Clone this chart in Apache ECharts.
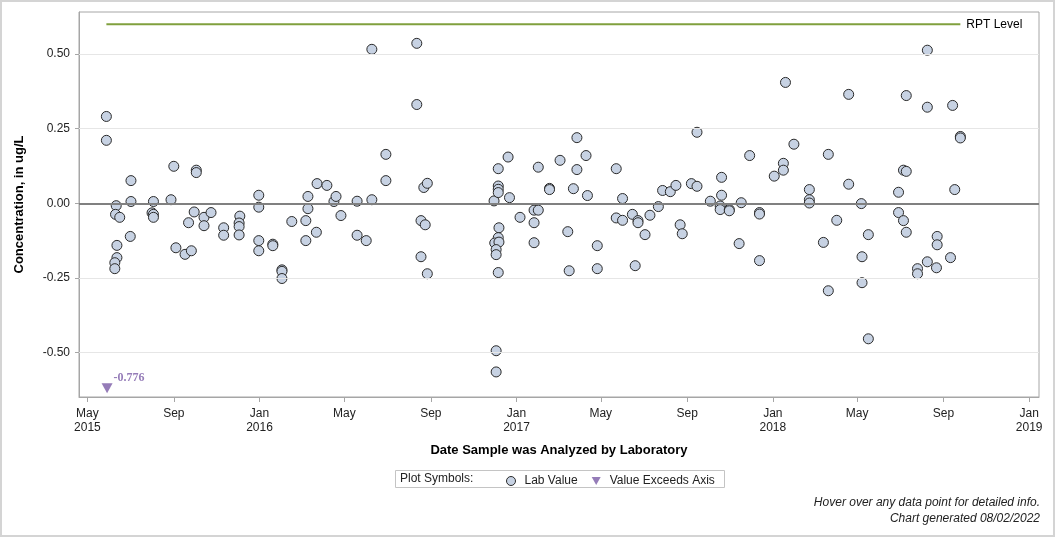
<!DOCTYPE html>
<html>
<head>
<meta charset="utf-8">
<script src="https://cdn.jsdelivr.net/npm/echarts@6/dist/echarts.min.js"></script>
<style>
  html, body { margin: 0; padding: 0; background: #fff; }
  #main { width: 1056px; height: 538px; }
</style>
</head>
<body>
<div id="main"></div>
<script>
// sample dates (lab analysis) and lab values, ug/L
var sampleDates = [
  '2015-05-28','2015-05-28','2015-06-11','2015-06-10','2015-06-16','2015-06-12','2015-06-12','2015-06-09','2015-06-09','2015-07-02',
  '2015-07-02','2015-07-01','2015-08-01','2015-08-03','2015-08-03','2015-08-03','2015-08-28','2015-09-01','2015-09-04','2015-09-17',
  '2015-09-26','2015-09-22','2015-09-30','2015-10-03','2015-10-03','2015-10-14','2015-10-14','2015-10-24','2015-11-11','2015-11-11',
  '2015-12-04','2015-12-03','2015-12-03','2015-12-03','2015-12-31','2015-12-31','2015-12-31','2015-12-31','2016-01-20','2016-01-20',
  '2016-02-02','2016-02-02','2016-02-02','2016-02-16','2016-03-07','2016-03-07','2016-03-10','2016-03-10','2016-03-23','2016-03-22',
  '2016-04-06','2016-04-16','2016-04-19','2016-04-26','2016-05-19','2016-05-19','2016-06-01','2016-06-09','2016-06-09','2016-06-29',
  '2016-06-29','2016-08-12','2016-08-12','2016-08-18','2016-08-24','2016-08-18','2016-08-27','2016-08-22','2016-08-27','2016-11-30',
  '2016-12-06','2016-12-06','2016-12-06','2016-12-06','2016-12-07','2016-12-06','2016-12-01','2016-12-07','2016-12-03','2016-12-03',
  '2016-12-06','2016-12-03','2016-12-03','2016-12-20','2016-12-22','2017-01-06','2017-01-26','2017-02-01','2017-01-26','2017-01-26',
  '2017-02-01','2017-02-17','2017-02-17','2017-03-04','2017-03-15','2017-03-17','2017-03-23','2017-03-28','2017-03-28','2017-04-10',
  '2017-04-12','2017-04-26','2017-04-26','2017-05-23','2017-05-23','2017-06-01','2017-06-01','2017-06-15','2017-06-19','2017-06-23',
  '2017-06-23','2017-07-03','2017-07-10','2017-07-22','2017-07-28','2017-08-08','2017-08-16','2017-08-22','2017-08-25','2017-09-07',
  '2017-09-15','2017-09-15','2017-10-04','2017-10-18','2017-10-18','2017-10-20','2017-10-20','2017-10-31','2017-10-31','2017-11-17',
  '2017-11-14','2017-11-29','2017-12-13','2017-12-13','2017-12-13','2018-01-03','2018-01-16','2018-01-16','2018-01-19','2018-01-31',
  '2018-02-22','2018-02-22','2018-02-22','2018-03-14','2018-03-21','2018-03-21','2018-04-02','2018-04-19','2018-04-19','2018-05-07',
  '2018-05-08','2018-05-08','2018-05-17','2018-05-17','2018-06-29','2018-06-29','2018-07-06','2018-07-06','2018-07-10','2018-07-10',
  '2018-07-10','2018-07-26','2018-07-26','2018-08-09','2018-08-09','2018-08-09','2018-08-22','2018-08-23','2018-08-23','2018-09-11',
  '2018-09-14','2018-09-17','2018-09-25','2018-09-25'
];
var labValues = [
  0.291, 0.211, -0.008, -0.037, -0.047, -0.141, -0.182, -0.199, -0.219, 0.076,
  0.006, -0.111, -0.032, 0.006, -0.037, -0.047, 0.012, 0.124, -0.149, -0.171,
  -0.159, -0.065, -0.029, 0.111, 0.103, -0.047, -0.075, -0.031, -0.082, -0.107,
  -0.043, -0.066, -0.078, -0.106, 0.027, -0.013, -0.125, -0.159, -0.137, -0.142,
  -0.223, -0.228, -0.252, -0.061, -0.058, -0.125, 0.023, -0.018, 0.066, -0.097,
  0.060, 0.006, 0.023, -0.041, 0.007, -0.107, -0.125, 0.516, 0.012, 0.164,
  0.076, 0.536, 0.331, -0.058, -0.072, -0.179, -0.236, 0.053, 0.067, 0.008,
  0.116, 0.058, 0.047, 0.036, -0.082, -0.115, -0.133, -0.130, -0.155, -0.172,
  -0.232, -0.494, -0.565, 0.155, 0.019, -0.047, -0.023, -0.023, -0.065, -0.132,
  0.121, 0.050, 0.046, 0.144, -0.095, -0.226, 0.049, 0.220, 0.113, 0.160,
  0.026, -0.142, -0.219, 0.116, -0.049, 0.016, -0.057, -0.037, -0.209, -0.058,
  -0.065, -0.105, -0.040, -0.011, 0.043, 0.039, 0.060, -0.072, -0.102, 0.066,
  0.057, 0.238, 0.007, -0.009, -0.021, 0.087, 0.027, -0.021, -0.025, 0.002,
  -0.135, 0.160, -0.031, -0.036, -0.192, 0.091, 0.134, 0.111, 0.405, 0.198,
  0.046, 0.012, 0.001, -0.131, 0.164, -0.293, -0.057, 0.365, 0.064, -0.001,
  -0.179, -0.266, -0.105, -0.454, 0.037, -0.031, 0.111, -0.058, 0.361, 0.107,
  -0.097, -0.219, -0.236, 0.513, 0.322, -0.196, -0.216, -0.111, -0.139, -0.182,
  0.328, 0.046, 0.224, 0.219
];

// value below the axis, drawn as a triangle at the bottom
var exceedDates = ['2015-05-29'];
var exceedValues = [-0.776];
var exceedPlotAt = -0.62;

var rptLevel = 0.6;
var rptDates = ['2015-05-28', '2018-09-25'];

var xTickDates = ['2015-05-01','2015-09-01','2016-01-01','2016-05-01','2016-09-01','2017-01-01',
  '2017-05-01','2017-09-01','2018-01-01','2018-05-01','2018-09-01','2019-01-01'];
var yTicks = [-0.5, -0.25, 0, 0.25, 0.5];
var monthNames = ['Jan','Feb','Mar','Apr','May','Jun','Jul','Aug','Sep','Oct','Nov','Dec'];

function toTime(s) {
  var p = s.split('-');
  return new Date(+p[0], +p[1] - 1, +p[2]).getTime();
}

var labData = sampleDates.map(function (d, i) { return [toTime(d), labValues[i]]; });
var exceedData = exceedDates.map(function (d, i) { return [toTime(d), exceedPlotAt, exceedValues[i]]; });
var rptData = rptDates.map(function (d) { return [toTime(d), rptLevel]; });
var xTicks = xTickDates.map(toTime);

var font = 'Liberation Sans, Arial, sans-serif';
var purple = '#7b5ba6';

var myChart = echarts.init(document.getElementById('main'));
var option = {
  animation: false,
  backgroundColor: '#fff',
  textStyle: { fontFamily: font },
  grid: {
    left: 79, right: 17, top: 12, bottom: 141,
    show: true, borderColor: '#a6a6a6', borderWidth: 1
  },
  legend: {
    left: 506, top: 475,
    itemWidth: 9, itemHeight: 9, itemGap: 14,
    padding: 0,
    textStyle: { fontFamily: font, fontSize: 12, color: '#222', padding: [0, 0, 0, 4] },
    data: [
      { name: 'Lab Value', icon: 'circle', itemStyle: { color: '#c7d2e3', borderColor: '#2a2a2a', borderWidth: 1 } },
      { name: 'Value Exceeds Axis', icon: 'path://M0,0L10,0L5,9Z', itemStyle: { color: purple, borderWidth: 0 } }
    ]
  },
  xAxis: {
    type: 'value',
    min: toTime('2015-04-19'),
    max: toTime('2019-01-15'),
    name: 'Date Sample was Analyzed by Laboratory',
    nameLocation: 'middle',
    nameGap: 47,
    nameTextStyle: { fontFamily: font, fontSize: 13, fontWeight: 'bold', color: '#000' },
    axisLine: { show: true, onZero: false, lineStyle: { color: '#a6a6a6' } },
    axisTick: { show: true, length: 5, customValues: xTicks, lineStyle: { color: '#a6a6a6' } },
    axisLabel: {
      customValues: xTicks,
      margin: 10,
      fontSize: 12,
      lineHeight: 14,
      color: '#222',
      formatter: function (v) {
        var d = new Date(v);
        var m = monthNames[d.getMonth()];
        if (d.getMonth() === 0 || v === xTicks[0]) return m + '\n' + d.getFullYear();
        return m;
      }
    },
    splitLine: { show: false }
  },
  yAxis: {
    type: 'value',
    min: -0.649,
    max: 0.641,
    name: 'Concentration, in ug/L',
    nameLocation: 'middle',
    nameGap: 53,
    nameTextStyle: { fontFamily: font, fontSize: 13, fontWeight: 'bold', color: '#000' },
    axisLine: { show: true, onZero: false, lineStyle: { color: '#a6a6a6' } },
    axisTick: { show: true, length: 4, customValues: yTicks, lineStyle: { color: '#a6a6a6' } },
    axisLabel: {
      customValues: yTicks,
      margin: 9,
      fontSize: 12,
      color: '#222',
      formatter: function (v) { return v.toFixed(2); }
    },
    splitLine: { show: false }
  },
  series: [
    {
      // reference lines
      type: 'line',
      data: [],
      silent: true,
      z: 1,
      markLine: {
        silent: true,
        symbol: 'none',
        label: { show: false },
        data: yTicks.map(function (t) {
          return {
            yAxis: t,
            lineStyle: t === 0
              ? { color: '#808080', width: 2, type: 'solid' }
              : { color: '#e6e6e6', width: 1, type: 'solid' }
          };
        })
      }
    },
    {
      name: 'RPT Level',
      type: 'line',
      data: rptData,
      symbol: 'none',
      silent: true,
      z: 2,
      lineStyle: { color: '#80a03e', width: 2 },
      endLabel: {
        show: true,
        formatter: 'RPT Level',
        distance: 6,
        fontFamily: font,
        fontSize: 12,
        color: '#000'
      }
    },
    {
      name: 'Lab Value',
      type: 'scatter',
      data: labData,
      symbol: 'circle',
      symbolSize: 10,
      z: 3,
      itemStyle: { color: '#c7d2e3', borderColor: '#2a2a2a', borderWidth: 1, opacity: 1 }
    },
    {
      name: 'Value Exceeds Axis',
      type: 'scatter',
      data: exceedData,
      symbol: 'triangle',
      symbolRotate: 180,
      symbolSize: [11, 10],
      z: 3,
      itemStyle: { color: purple },
      label: {
        show: true,
        position: 'right',
        distance: 1,
        offset: [0, -10],
        formatter: function (p) { return p.data[2].toFixed(3); },
        fontFamily: 'Liberation Serif, Times New Roman, serif',
        fontWeight: 'bold',
        fontSize: 12,
        color: purple
      }
    }
  ],
  graphic: [
    {
      type: 'rect',
      shape: { x: 1, y: 1, width: 1053, height: 535 },
      style: { fill: null, stroke: '#d4d4d4', lineWidth: 2 },
      silent: true
    },
    {
      type: 'rect',
      shape: { x: 395.5, y: 470.5, width: 329, height: 17 },
      style: { fill: '#fff', stroke: '#c4c4c4', lineWidth: 1 },
      z: -1,
      silent: true
    },
    {
      type: 'text',
      x: 400, y: 479,
      style: { text: 'Plot Symbols:', font: '12px ' + font, fill: '#222', textVerticalAlign: 'middle' }
    },
    {
      type: 'text',
      x: 1040, y: 503,
      style: { text: 'Hover over any data point for detailed info.', font: 'italic 12px ' + font, fill: '#222', textAlign: 'right', textVerticalAlign: 'middle' }
    },
    {
      type: 'text',
      x: 1040, y: 519,
      style: { text: 'Chart generated 08/02/2022', font: 'italic 12px ' + font, fill: '#222', textAlign: 'right', textVerticalAlign: 'middle' }
    }
  ]
};
myChart.setOption(option);
</script>
</body>
</html>
